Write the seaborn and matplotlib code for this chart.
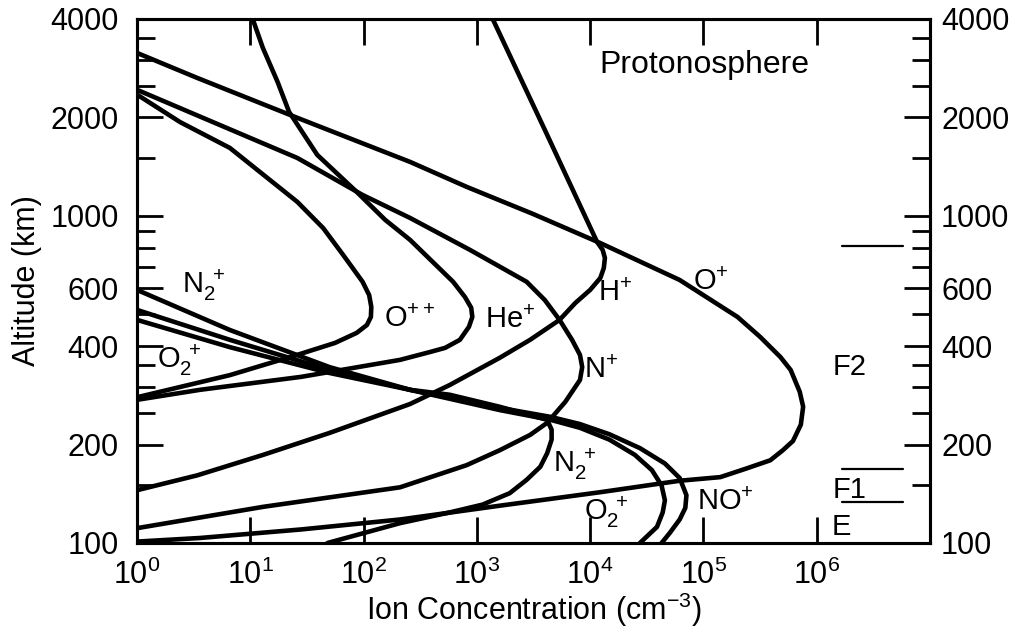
import matplotlib
matplotlib.use("Agg")
import matplotlib.pyplot as plt
from matplotlib.ticker import NullFormatter, NullLocator, FixedLocator
import seaborn as sns
import pandas as pd

# Daytime ion density profiles: concentration (cm^-3) against altitude (km),
# each listed in order along the drawn curve.
o_plus_conc = [1.0, 3.4, 26, 257, 813, 3130, 12300, 61700, 200000, 316000, 479000, 589000,
               708000, 759000, 724000, 617000, 501000, 389000, 240000, 141000, 61700, 12300,
               1585, 210, 28, 3.6, 1.0]
o_plus_alt = [3150, 2642, 1995, 1463, 1227, 1014, 826, 637, 491, 427, 370, 338,
              290, 261, 230, 205, 192, 179, 169, 159, 155, 143,
              130, 118, 110, 103.6, 101]

h_plus_conc = [1380, 3980, 11500, 12900, 13500, 13200, 12300, 10000, 7410, 5370, 2950,
               1585, 575, 257, 50, 13, 3.4, 1.0]
h_plus_alt = [4000, 1833, 833, 787, 744, 693, 646, 594, 542, 481, 418,
              368, 304, 266, 217, 186, 161, 145]

he_plus_conc = [10.5, 12.9, 17.4, 22, 39, 87, 155, 257, 617, 785, 891, 912, 851, 708,
                525, 390, 210, 28, 3.6, 1.0]
he_plus_alt = [4000, 3266, 2571, 2080, 1537, 1184, 973, 845, 629, 565, 524, 491, 458, 418,
               395, 384, 363, 322, 294, 274]

o_pp_conc = [1.0, 2.4, 6.6, 26, 44, 66, 98, 112, 117, 116, 107, 87, 56, 26, 6.6, 1.0]
o_pp_alt = [2350, 1936, 1614, 1104, 918, 760, 629, 573, 527, 491, 464, 439, 409, 376, 326, 279]

n_plus_conc = [1.0, 26, 98, 257, 871, 2750, 3980, 5370, 6920, 8130, 8510, 8130, 6030,
               4170, 2950, 1585, 813, 210, 13, 1.0]
n_plus_alt = [2430, 1504, 1159, 986, 787, 629, 553, 481, 418, 376, 345, 315, 270,
              233, 214, 192, 173, 148, 129, 111]

n2_plus_conc = [1.0, 6.6, 50, 257, 575, 1585, 4170, 4570, 4570, 4170, 3630, 2750, 1950,
                1120, 575, 210, 48]
n2_plus_alt = [594, 448, 345, 294, 284, 261, 238, 222, 207, 188, 171, 156, 142,
               131, 124, 115, 100]

o2_plus_conc = [1.0, 6.6, 50, 257, 1585, 4470, 8130, 14800, 24800, 35100, 42700, 45700,
                43700, 38900, 27500]
o2_plus_alt = [481, 397, 331, 294, 255, 238, 225, 207, 186, 167, 150, 135, 124, 112, 100]

no_plus_conc = [1.0, 6.6, 50, 257, 1585, 4470, 8130, 14800, 27500, 45700, 61700, 70800,
                69200, 61700, 50100, 42700]
no_plus_alt = [516, 418, 338, 294, 259, 243, 231, 215, 195, 175, 158, 140,
               128, 118, 107, 100]

# Layer boundary markers at the right edge
layer_bar_conc = [1.66e6, 5.8e6]
layer_bar_alt = [810, 168, 133]

alt_major = [100, 200, 400, 600, 1000, 2000, 4000]
alt_minor = [150, 250, 300, 350, 500, 700, 800, 900, 1500, 2500, 3000, 3500]
conc_major = [1e0, 1e1, 1e2, 1e3, 1e4, 1e5, 1e6]

sns.set_theme(style="ticks")
plt.rcParams["font.family"] = ["Liberation Sans", "DejaVu Sans"]
plt.rcParams["mathtext.fontset"] = "custom"
plt.rcParams["mathtext.rm"] = "Liberation Sans"
plt.rcParams["mathtext.it"] = "Liberation Sans:italic"
plt.rcParams["mathtext.bf"] = "Liberation Sans:bold"
plt.rcParams["mathtext.default"] = "regular"
for key in ("text.color", "axes.labelcolor", "xtick.color", "ytick.color",
            "xtick.labelcolor", "ytick.labelcolor", "axes.edgecolor"):
    plt.rcParams[key] = "black"

FS = 21
fig = plt.figure(figsize=(10.24, 6.33), dpi=100)
ax = fig.add_axes([137 / 1024, 1 - 543 / 633, (930 - 137) / 1024, (543 - 19) / 633])
ax.set_xscale("log")
ax.set_yscale("log")

profiles = [
    (o_plus_conc, o_plus_alt),
    (h_plus_conc, h_plus_alt),
    (he_plus_conc, he_plus_alt),
    (o_pp_conc, o_pp_alt),
    (n_plus_conc, n_plus_alt),
    (n2_plus_conc, n2_plus_alt),
    (o2_plus_conc, o2_plus_alt),
    (no_plus_conc, no_plus_alt),
]
for conc, alt in profiles:
    df = pd.DataFrame({"conc": conc, "alt": alt})
    sns.lineplot(data=df, x="conc", y="alt", sort=False, estimator=None,
                 color="black", linewidth=3.3, ax=ax,
                 solid_joinstyle="round", solid_capstyle="round")

for a in layer_bar_alt:
    ax.plot(layer_bar_conc, [a, a], color="black", linewidth=1.6)

ax.set_xlim(1, 1e7)
ax.set_ylim(100, 4000)
ax.set_xlabel("")
ax.set_ylabel("")

ax.xaxis.set_major_locator(FixedLocator(conc_major))
ax.xaxis.set_minor_locator(NullLocator())
ax.set_yticks(alt_major)
ax.set_yticklabels([str(v) for v in alt_major])
ax.yaxis.set_minor_locator(FixedLocator(alt_minor))
ax.yaxis.set_minor_formatter(NullFormatter())

ax.tick_params(axis="both", which="major", direction="in", length=19, width=2.0,
               labelsize=FS + 1, colors="black")
ax.tick_params(axis="x", which="major", top=True, bottom=True, pad=12)
ax.tick_params(axis="y", which="both", left=True, right=False, pad=13)
ax.tick_params(axis="y", which="minor", direction="in", length=13, width=2.0)

ax2 = ax.twinx()
ax2.set_yscale("log")
ax2.set_ylim(100, 4000)
ax2.set_yticks(alt_major)
ax2.set_yticklabels([str(v) for v in alt_major])
ax2.yaxis.set_minor_locator(FixedLocator(alt_minor))
ax2.yaxis.set_minor_formatter(NullFormatter())
ax2.tick_params(axis="y", which="major", direction="in", length=19, width=2.0,
                labelsize=FS + 1, pad=8, left=False, right=True, colors="black")
ax2.tick_params(axis="y", which="minor", direction="in", length=13, width=2.0,
                left=False, right=True)

for a_ in (ax, ax2):
    for s in a_.spines.values():
        s.set_linewidth(2.2)
        s.set_color("black")

ax.set_xlabel("Ion Concentration (cm$^{-3}$)", fontsize=FS + 1, labelpad=0, color="black")
ax.set_ylabel("Altitude (km)", fontsize=FS + 1, labelpad=6, color="black")

# Curve and region labels
txt = dict(fontsize=FS, color="black")
ax.text(1.2e4, 2735, "Protonosphere", ha="left", va="baseline", fontsize=23, color="black")
ax.text(1.17e5, 629, "O$^{+}$", ha="center", va="center", **txt)
ax.text(1.66e4, 582, "H$^{+}$", ha="center", va="center", **txt)
ax.text(1950, 481, "He$^{+}$", ha="center", va="center", **txt)
ax.text(257, 484, "O$^{++}$", ha="center", va="center", **txt)
ax.text(1.26e4, 338, "N$^{+}$", ha="center", va="center", **txt)
ax.text(4680, 165, "N$_2^{\\ +}$", ha="left", va="baseline", **txt)
ax.text(8900, 117.6, "O$_2^{\\ +}$", ha="left", va="baseline", **txt)
ax.text(8.7e4, 126, "NO$^{+}$", ha="left", va="baseline", **txt)
ax.text(2.5, 582, "N$_2^{\\ +}$", ha="left", va="baseline", **txt)
ax.text(1.5, 343, "O$_2^{\\ +}$", ha="left", va="baseline", **txt)
ax.text(1.38e6, 326, "F2", ha="left", va="baseline", **txt)
ax.text(1.38e6, 137.2, "F1", ha="left", va="baseline", **txt)
ax.text(1.35e6, 105.8, "E", ha="left", va="baseline", **txt)

fig.savefig("out.png", dpi=100, facecolor="white")
